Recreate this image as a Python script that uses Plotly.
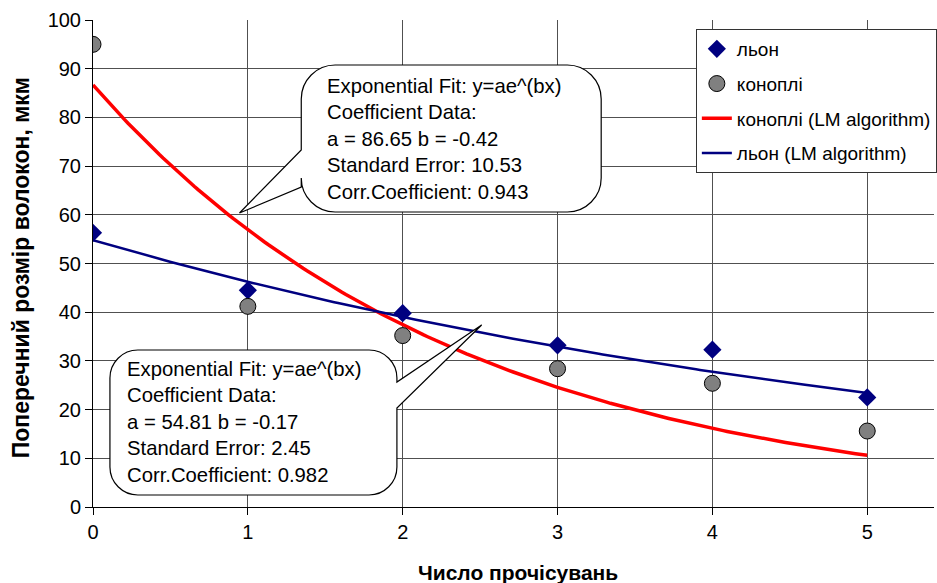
import numpy as np
import plotly.graph_objects as go

# ---- data -------------------------------------------------------------
passes = [0, 1, 2, 3, 4, 5]
flax = [56.3, 44.5, 39.8, 33.2, 32.3, 22.5]      # льон
hemp = [95.0, 41.2, 35.2, 28.4, 25.4, 15.6]      # коноплі

# exponential fits y = a * exp(b x)
hemp_a, hemp_b = 86.65, -0.42
flax_a, flax_b = 54.81, -0.17

hemp_fit_text = ["Exponential Fit: y=ae^(bx)", "Coefficient Data:",
                 "a = 86.65 b = -0.42", "Standard Error: 10.53",
                 "Corr.Coefficient: 0.943"]
flax_fit_text = ["Exponential Fit: y=ae^(bx)", "Coefficient Data:",
                 "a = 54.81 b = -0.17", "Standard Error: 2.45",
                 "Corr.Coefficient: 0.982"]

x_ticks = [0, 1, 2, 3, 4, 5]
y_ticks = list(range(0, 101, 10))

# ---- geometry ---------------------------------------------------------
W, H = 937, 583
ML, MR, MT, MB = 93, 0, 20, 76
PW, PH = W - ML - MR, H - MT - MB
X_MAX = PW / 155.4
FONT = "Liberation Sans, Arial, sans-serif"


def px(x):
    return (x - ML) / PW


def py(y):
    return (H - MB - y) / PH


def callout_path(x0, y0, x1, y1, r, side, base_a, base_b, tip):
    """Rounded-rectangle speech bubble (pixel coords) as a paper-ref SVG path."""
    k = 0.552 * r
    pts = []

    def P(x, y):
        return f"{px(x):.5f},{py(y):.5f}"

    pts.append(f"M{P(x0 + r, y0)}")
    pts.append(f"L{P(x1 - r, y0)}")
    pts.append(f"C{P(x1 - r + k, y0)} {P(x1, y0 + r - k)} {P(x1, y0 + r)}")
    if side == "right":
        pts.append(f"L{P(x1, base_a)}")
        pts.append(f"L{P(*tip)}")
        pts.append(f"L{P(x1, base_b)}")
    pts.append(f"L{P(x1, y1 - r)}")
    pts.append(f"C{P(x1, y1 - r + k)} {P(x1 - r + k, y1)} {P(x1 - r, y1)}")
    pts.append(f"L{P(x0 + r, y1)}")
    pts.append(f"C{P(x0 + r - k, y1)} {P(x0, y1 - r + k)} {P(x0, y1 - r)}")
    if side == "left":
        pts.append(f"L{P(x0, base_b)}")
        pts.append(f"L{P(*tip)}")
        pts.append(f"L{P(x0, base_a)}")
    pts.append(f"L{P(x0, y0 + r)}")
    pts.append(f"C{P(x0, y0 + r - k)} {P(x0 + r - k, y0)} {P(x0 + r, y0)}")
    pts.append("Z")
    return " ".join(pts)


xs = np.linspace(0, 5, 200)

fig = go.Figure()

# fitted curves
fig.add_trace(go.Scatter(
    x=xs, y=hemp_a * np.exp(hemp_b * xs), mode="lines",
    name="коноплі (LM algorithm)", legendrank=3, legendgroup="c",
    line=dict(color="#FF0000", width=3.5)))
fig.add_trace(go.Scatter(
    x=xs, y=flax_a * np.exp(flax_b * xs), mode="lines",
    name="льон (LM algorithm)", legendrank=4, legendgroup="d",
    line=dict(color="#000080", width=2.5)))

# measured points
fig.add_trace(go.Scatter(
    x=passes, y=flax, mode="markers", name="льон", legendrank=1,
    legendgroup="a",
    marker=dict(symbol="diamond", size=14, color="#000080",
                line=dict(width=0))))
fig.add_trace(go.Scatter(
    x=passes, y=hemp, mode="markers", name="коноплі", legendrank=2,
    legendgroup="b",
    marker=dict(symbol="circle", size=16, color="#808080",
                line=dict(width=1, color="#000000"))))

shapes = [
    dict(type="path", xref="paper", yref="paper", layer="above",
         path=callout_path(302, 65, 603, 212, 34, "left", 150, 187, (240, 213)),
         fillcolor="white", line=dict(color="black", width=1.2)),
    dict(type="path", xref="paper", yref="paper", layer="above",
         path=callout_path(110, 350, 398, 495, 28, "right", 382, 408, (483, 325)),
         fillcolor="white", line=dict(color="black", width=1.2)),
]

annotations = [
    dict(text="<br>".join(hemp_fit_text), xref="paper", yref="paper",
         x=px(326), y=py(139), xanchor="left", yanchor="middle", align="left",
         showarrow=False, font=dict(family=FONT, size=20.3, color="black")),
    dict(text="<br>".join(flax_fit_text), xref="paper", yref="paper",
         x=px(125), y=py(422), xanchor="left", yanchor="middle", align="left",
         showarrow=False, font=dict(family=FONT, size=20.3, color="black")),
    dict(text="<b>Поперечний розмір волокон, мкм</b>", xref="paper",
         yref="paper", x=px(21), y=py(268), xanchor="center",
         yanchor="middle", textangle=-90, showarrow=False,
         font=dict(family=FONT, size=23, color="black")),
    dict(text="<b>Число прочісувань</b>", xref="paper", yref="paper",
         x=px(520), y=py(572), xanchor="center", yanchor="middle",
         showarrow=False, font=dict(family=FONT, size=21, color="black")),
]

fig.update_layout(
    width=W, height=H,
    margin=dict(l=ML, r=MR, t=MT, b=MB, pad=0),
    paper_bgcolor="white", plot_bgcolor="white",
    font=dict(family=FONT, size=20, color="black"),
    showlegend=True,
    legend=dict(x=px(698), y=py(29), xanchor="left", yanchor="top",
                bgcolor="white", bordercolor="#333333", borderwidth=1,
                font=dict(family=FONT, size=19, color="black"),
                tracegroupgap=7, itemwidth=30),
    shapes=shapes,
    annotations=annotations,
)

fig.update_xaxes(
    range=[0, X_MAX], tickvals=x_ticks, ticktext=[str(v) for v in x_ticks],
    showgrid=True, gridcolor="#505050", gridwidth=1,
    showline=True, linecolor="black", linewidth=1,
    ticks="outside", ticklen=7, tickcolor="black",
    zeroline=False, tickfont=dict(size=20))
fig.update_yaxes(
    range=[0, 100], tickvals=y_ticks, ticktext=[str(v) for v in y_ticks],
    showgrid=True, gridcolor="#505050", gridwidth=1,
    showline=True, linecolor="black", linewidth=1,
    ticks="outside", ticklen=7, tickcolor="black",
    zeroline=False, tickfont=dict(size=20))

fig.write_html("out.html")
